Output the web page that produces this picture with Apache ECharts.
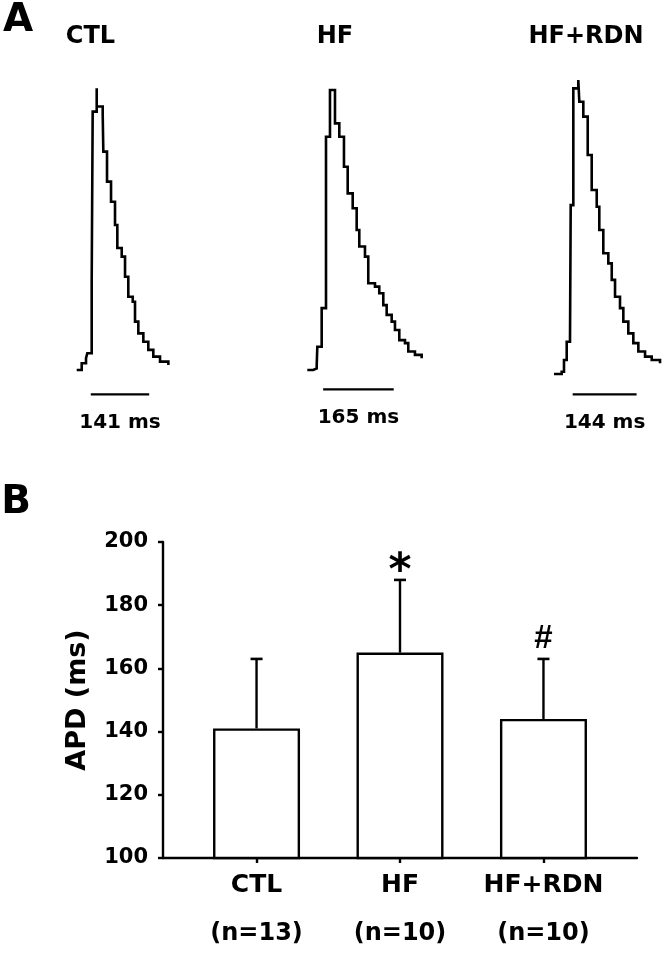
<!DOCTYPE html>
<html>
<head>
<meta charset="utf-8">
<script src="https://cdn.jsdelivr.net/npm/echarts@6/dist/echarts.min.js"></script>
<style>
  html, body { margin: 0; padding: 0; background: #fff; }
  #chart { width: 664px; height: 956px; }
</style>
</head>
<body>
<div id="chart"></div>
<script>
// ---------- Panel A: representative action potential traces ----------
const traceTitles = ['CTL', 'HF', 'HF+RDN'];
const apdValues = [141, 165, 144];          // ms, scale bar length
const apdBarStart = [34, 37, 42];           // ms, scale bar start (at upstroke)
const scaleBarLevel = [-8, -6.2, -8];       // amplitude units, bar position

// time (ms) and normalized amplitude (%)
const ctlTime = [0, 12.1, 22.5, 25.6, 36.2, 36.2, 38.6, 48.3, 48.3, 62.8, 64.3, 73.2, 82.9, 92.5, 98.1, 108.7, 116.7, 124.6, 135.3, 140.8, 148.8, 160.9, 172.9, 185.0, 201.2, 221.3];
const ctlAmp  = [0.7, 3.1, 4.9, 6.7, 7.2, 32.3, 93.0, 101.3, 94.8, 91.8, 78.7, 68.0, 60.8, 52.5, 44.3, 41.2, 34.0, 26.9, 25.1, 18.0, 13.8, 10.8, 7.9, 5.5, 3.7, 2.5];

const hfTime = [0, 14.0, 22.0, 23.4, 33.6, 43.7, 53.0, 64.7, 74.8, 85.7, 94.4, 106.1, 115.4, 121.5, 134.8, 142.5, 158.2, 168.2, 177.6, 185.5, 197.2, 204.9, 215.0, 228.3, 236.0, 251.6, 267.3];
const hfAmp  = [0.7, 1.3, 2.5, 9.0, 22.8, 84.0, 100.7, 88.8, 84.0, 73.3, 63.8, 58.5, 50.7, 44.8, 41.2, 31.7, 30.5, 28.1, 23.9, 20.4, 18.0, 15.0, 11.4, 10.3, 7.3, 6.1, 4.9];

const rdnTime = [0, 17.3, 22.5, 28.6, 36.0, 37.6, 43.5, 54.7, 57.0, 66.0, 75.9, 84.9, 96.2, 102.0, 111.0, 122.3, 130.0, 137.4, 148.6, 156.1, 167.3, 178.6, 189.9, 205.0, 220.0, 238.7];
const rdnAmp  = [-0.7, 0.1, 4.3, 10.8, 11.4, 59.6, 101.3, 104.3, 96.5, 91.2, 77.5, 65.0, 59.0, 50.7, 42.4, 38.8, 32.9, 26.9, 22.8, 18.0, 13.8, 10.3, 7.3, 5.5, 4.3, 3.1];

// ---------- Panel B: bar chart ----------
const categories = ['CTL', 'HF', 'HF+RDN'];
const groupN = ['(n=13)', '(n=10)', '(n=10)'];
const apdMean = [141, 165, 144];
const apdSD = [22, 23, 19];
const sigMarks = ['', '*', '#'];
const yTicks = [100, 120, 140, 160, 180, 200];

// ---------- build ----------
const FONT = '"DejaVu Sans", "Liberation Sans", Arial, sans-serif';
const zip = (a, b) => a.map((v, i) => [v, b[i]]);
const traces = [zip(ctlTime, ctlAmp), zip(hfTime, hfAmp), zip(rdnTime, rdnAmp)];

// layout of the three trace panels (pixels) and their time spans (ms)
const traceLeft = [76.7, 307.3, 554];
const traceSpan = [240, 280, 240];
const traceWidth = [99.4, 119.8, 106.6];

const grids = [];
const xAxes = [];
const yAxes = [];
const series = [];
const graphics = [];

traces.forEach((tr, k) => {
  grids.push({ left: traceLeft[k], width: traceWidth[k], top: 78, bottom: 556 });
  xAxes.push({ type: 'value', gridIndex: k, min: 0, max: traceSpan[k], show: false });
  yAxes.push({ type: 'value', gridIndex: k, min: -10, max: 105, show: false });
  series.push({
    type: 'line', xAxisIndex: k, yAxisIndex: k, data: tr, step: 'end',
    showSymbol: false, symbol: 'none', clip: false, silent: true,
    lineStyle: { color: '#000', width: 2.6, join: 'miter' }
  });
  series.push({
    type: 'line', xAxisIndex: k, yAxisIndex: k,
    data: [[apdBarStart[k], scaleBarLevel[k]], [apdBarStart[k] + apdValues[k], scaleBarLevel[k]]],
    showSymbol: false, symbol: 'none', clip: false, silent: true,
    lineStyle: { color: '#000', width: 2.4 }
  });
  series.push({
    type: 'scatter', xAxisIndex: k, yAxisIndex: k, symbolSize: 0, silent: true, clip: false,
    itemStyle: { opacity: 1, color: '#000' },
    data: [[apdBarStart[k] + apdValues[k] / 2, scaleBarLevel[k]]],
    label: {
      show: true, position: 'bottom', distance: 18,
      formatter: () => apdValues[k] + ' ms',
      fontFamily: FONT, fontWeight: 'bold', fontSize: 20, color: '#000'
    }
  });
});

// panel A titles
const titleCenters = [[90.5, 37], [335, 37], [586, 37]];
traceTitles.forEach((t, k) => {
  graphics.push({
    type: 'text', x: titleCenters[k][0], y: titleCenters[k][1],
    style: { text: t, font: 'bold 24px ' + FONT, fill: '#000', align: 'center', verticalAlign: 'middle' }
  });
});
graphics.push({ type: 'text', x: 18, y: 21, style: { text: 'A', font: 'bold 39px ' + FONT, fill: '#000', align: 'center', verticalAlign: 'middle' } });
graphics.push({ type: 'text', x: 16, y: 503, style: { text: 'B', font: 'bold 39px ' + FONT, fill: '#000', align: 'center', verticalAlign: 'middle' } });

// panel B
const gB = 3;
grids.push({ left: 163, right: 27, top: 542, bottom: 98 });
xAxes.push({
  type: 'value', gridIndex: gB, min: -0.652, max: 2.652,
  splitLine: { show: false },
  axisLine: { show: true, onZero: false, lineStyle: { color: '#000', width: 2.4 } },
  axisTick: { show: true, customValues: [0, 1, 2], length: 5, lineStyle: { color: '#000', width: 2.4 } },
  axisLabel: {
    show: true, customValues: [0, 1, 2], margin: 12,
    formatter: v => '{a|' + categories[Math.round(v)] + '}\n{b|' + groupN[Math.round(v)] + '}',
    rich: {
      a: { fontFamily: FONT, fontWeight: 'bold', fontSize: 25, color: '#000', lineHeight: 30, align: 'center' },
      b: { fontFamily: FONT, fontWeight: 'bold', fontSize: 24, color: '#000', lineHeight: 68, align: 'center' }
    }
  }
});
yAxes.push({
  type: 'value', gridIndex: gB, min: 100, max: 200, interval: 20,
  splitLine: { show: false },
  axisLine: { show: true, onZero: false, lineStyle: { color: '#000', width: 2.4 } },
  axisTick: { show: true, length: 5, lineStyle: { color: '#000', width: 2.4 } },
  axisLabel: {
    margin: 15, fontFamily: FONT, fontWeight: 'bold', fontSize: 21, color: '#000',
    formatter: v => (yTicks.indexOf(v) >= 0 ? String(v) : '')
  },
  name: 'APD (ms)', nameLocation: 'middle', nameRotate: 90, nameGap: 72,
  nameTextStyle: { fontFamily: FONT, fontWeight: 'bold', fontSize: 27, color: '#000' }
});
series.push({
  type: 'bar', xAxisIndex: gB, yAxisIndex: gB, barWidth: 87, silent: true,
  data: apdMean.map((m, i) => [i, m]),
  itemStyle: { color: '#fff', borderColor: '#000', borderWidth: 2.4 },
  z: 2
});
series.push({
  type: 'custom', xAxisIndex: gB, yAxisIndex: gB, silent: true, z: 3,
  data: apdMean.map((m, i) => [i, m, apdSD[i]]),
  renderItem: (params, api) => {
    const i = api.value(0), m = api.value(1), sd = api.value(2);
    const base = api.coord([i, m]);
    const top = api.coord([i, m + sd]);
    const mark = sigMarks[params.dataIndex];
    const children = [
      { type: 'line', shape: { x1: base[0], y1: base[1], x2: top[0], y2: top[1] }, style: { stroke: '#000', lineWidth: 2.4 } },
      { type: 'line', shape: { x1: top[0] - 6, y1: top[1], x2: top[0] + 6, y2: top[1] }, style: { stroke: '#000', lineWidth: 2.6 } }
    ];
    if (mark === '*') {
      children.push({ type: 'text', x: top[0], y: top[1] - 7,
        style: { text: mark, font: 'bold 44px ' + FONT, fill: '#000', align: 'center', verticalAlign: 'middle' } });
    } else if (mark) {
      children.push({ type: 'text', x: top[0], y: top[1] - 20,
        style: { text: mark, font: 'bold 33px "Liberation Sans", Arial, sans-serif', fill: '#000', align: 'center', verticalAlign: 'middle' } });
    }
    return { type: 'group', children };
  }
});

const chart = echarts.init(document.getElementById('chart'), null, { renderer: 'canvas' });
chart.setOption({
  animation: false,
  backgroundColor: '#fff',
  grid: grids,
  xAxis: xAxes,
  yAxis: yAxes,
  series: series,
  graphic: graphics
});
</script>
</body>
</html>
